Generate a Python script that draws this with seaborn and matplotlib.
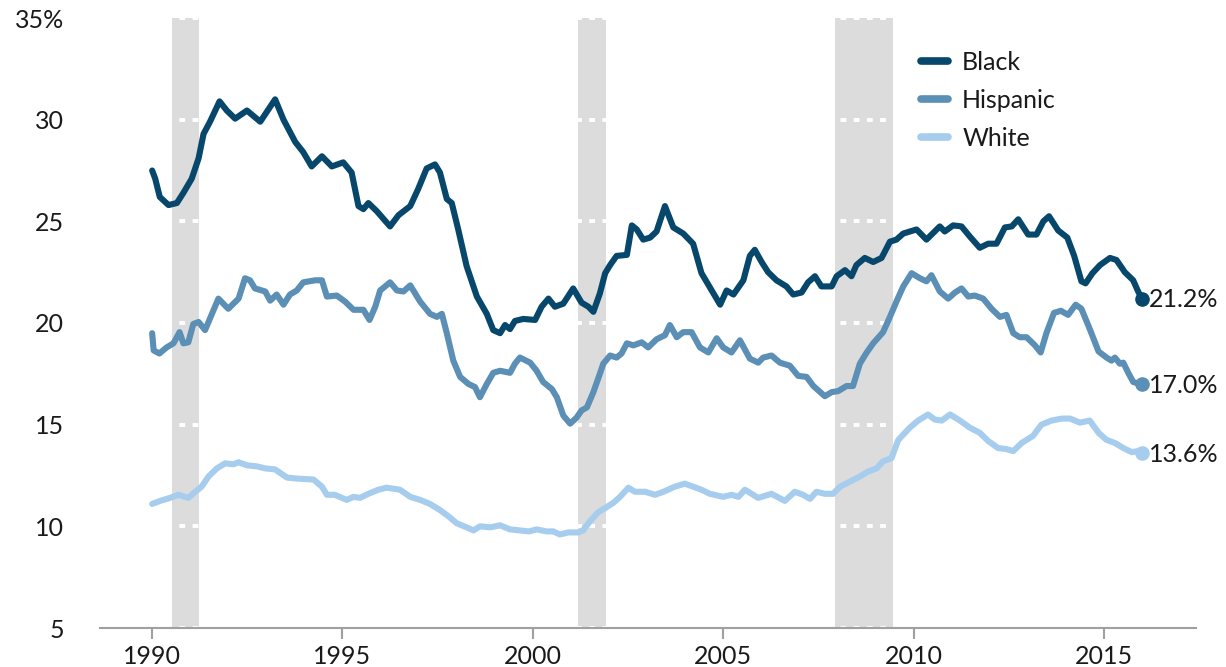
import numpy as np
import pandas as pd
import matplotlib
matplotlib.use("Agg")
import matplotlib.pyplot as plt
import seaborn as sns
from matplotlib.lines import Line2D

# ---------------- data ----------------
black_t = [1990.0, 1990.08, 1990.2, 1990.43, 1990.65, 1990.82, 1991.04, 1991.22, 1991.35, 1991.52,
           1991.77, 1991.96, 1992.18, 1992.49, 1992.84, 1993.23, 1993.45, 1993.76, 1993.97, 1994.19,
           1994.46, 1994.72, 1995.02, 1995.24, 1995.42, 1995.55, 1995.68, 1995.9, 1996.25, 1996.47,
           1996.78, 1996.99, 1997.21, 1997.43, 1997.56, 1997.74, 1997.87, 1998.04, 1998.26, 1998.53,
           1998.79, 1998.96, 1999.14, 1999.27, 1999.4, 1999.53, 1999.75, 2000.06, 2000.23, 2000.41,
           2000.58, 2000.8, 2001.06, 2001.28, 2001.46, 2001.59, 2001.76, 2001.9, 2002.03, 2002.2,
           2002.47, 2002.6, 2002.73, 2002.9, 2003.08, 2003.25, 2003.47, 2003.69, 2003.95, 2004.21,
           2004.43, 2004.7, 2004.92, 2005.09, 2005.27, 2005.53, 2005.7, 2005.83, 2006.01, 2006.18,
           2006.4, 2006.66, 2006.84, 2007.06, 2007.23, 2007.41, 2007.58, 2007.85, 2007.98, 2008.2,
           2008.37, 2008.5, 2008.72, 2008.94, 2009.16, 2009.38, 2009.55, 2009.73, 2010.08, 2010.34,
           2010.69, 2010.82, 2011.04, 2011.26, 2011.48, 2011.74, 2011.96, 2012.18, 2012.4, 2012.58,
           2012.75, 2013.01, 2013.23, 2013.41, 2013.56, 2013.8, 2014.04, 2014.22, 2014.41, 2014.52,
           2014.7, 2014.9, 2015.16, 2015.33, 2015.55, 2015.77, 2015.9, 2016.0]
black_v = [27.5, 27.1, 26.2, 25.8, 25.9, 26.4, 27.1, 28.1, 29.3, 29.9,
           30.9, 30.45, 30.05, 30.45, 29.9, 31.0, 30.0, 28.9, 28.4, 27.7,
           28.2, 27.7, 27.9, 27.4, 25.75, 25.6, 25.9, 25.5, 24.75, 25.3,
           25.75, 26.6, 27.6, 27.8, 27.4, 26.1, 25.9, 24.6, 22.8, 21.3,
           20.45, 19.65, 19.5, 19.9, 19.7, 20.1, 20.2, 20.15, 20.8, 21.2,
           20.8, 20.95, 21.7, 21.0, 20.8, 20.55, 21.45, 22.45, 22.85, 23.3,
           23.35, 24.8, 24.6, 24.1, 24.2, 24.5, 25.75, 24.7, 24.4, 23.9,
           22.45, 21.6, 20.9, 21.6, 21.4, 22.1, 23.3, 23.6, 23.0, 22.5,
           22.1, 21.8, 21.4, 21.5, 22.0, 22.3, 21.8, 21.8, 22.3, 22.6,
           22.3, 22.85, 23.2, 23.0, 23.2, 24.0, 24.1, 24.4, 24.6, 24.1,
           24.75, 24.5, 24.8, 24.75, 24.25, 23.7, 23.9, 23.9, 24.7, 24.75,
           25.1, 24.35, 24.35, 25.0, 25.25, 24.55, 24.2, 23.3, 22.05, 21.95,
           22.45, 22.85, 23.2, 23.1, 22.5, 22.1, 21.55, 21.2]

hisp_t = [1990.0, 1990.04, 1990.19, 1990.38, 1990.56, 1990.72, 1990.82, 1990.95, 1991.08, 1991.22,
          1991.39, 1991.57, 1991.74, 1992.0, 1992.27, 1992.44, 1992.57, 1992.7, 1992.97, 1993.1,
          1993.27, 1993.45, 1993.62, 1993.8, 1993.97, 1994.28, 1994.46, 1994.59, 1994.85, 1995.07,
          1995.29, 1995.55, 1995.71, 1995.86, 1995.99, 1996.25, 1996.43, 1996.6, 1996.78, 1997.04,
          1997.3, 1997.48, 1997.61, 1997.74, 1997.91, 1998.09, 1998.31, 1998.48, 1998.61, 1998.79,
          1998.96, 1999.14, 1999.4, 1999.53, 1999.66, 1999.93, 2000.1, 2000.27, 2000.5, 2000.63,
          2000.8, 2000.98, 2001.15, 2001.28, 2001.42, 2001.59, 2001.76, 2001.85, 2002.03, 2002.2,
          2002.33, 2002.47, 2002.64, 2002.86, 2003.03, 2003.25, 2003.47, 2003.6, 2003.78, 2003.95,
          2004.17, 2004.39, 2004.61, 2004.83, 2005.0, 2005.22, 2005.44, 2005.7, 2005.92, 2006.05,
          2006.27, 2006.49, 2006.75, 2006.97, 2007.19, 2007.37, 2007.67, 2007.85, 2008.02, 2008.24,
          2008.41, 2008.59, 2008.77, 2008.94, 2009.2, 2009.38, 2009.55, 2009.73, 2009.95, 2010.17,
          2010.34, 2010.47, 2010.69, 2010.91, 2011.09, 2011.26, 2011.44, 2011.61, 2011.83, 2012.05,
          2012.27, 2012.44, 2012.62, 2012.79, 2012.97, 2013.19, 2013.34, 2013.49, 2013.69, 2013.87,
          2014.06, 2014.26, 2014.41, 2014.63, 2014.86, 2015.07, 2015.2, 2015.29, 2015.42, 2015.51,
          2015.64, 2015.77, 2015.95, 2016.0]
hisp_v = [19.5, 18.65, 18.5, 18.8, 19.0, 19.55, 19.0, 19.05, 19.95, 20.05,
          19.65, 20.45, 21.2, 20.7, 21.2, 22.2, 22.1, 21.7, 21.55, 21.1,
          21.4, 20.9, 21.4, 21.6, 22.0, 22.1, 22.1, 21.3, 21.35, 21.05,
          20.65, 20.65, 20.15, 20.8, 21.6, 22.0, 21.6, 21.55, 21.85, 21.05,
          20.45, 20.3, 20.45, 19.5, 18.15, 17.35, 17.0, 16.85, 16.35, 17.0,
          17.55, 17.65, 17.55, 18.0, 18.3, 18.05, 17.65, 17.1, 16.75, 16.35,
          15.45, 15.05, 15.35, 15.7, 15.85, 16.6, 17.5, 18.0, 18.4, 18.3,
          18.5, 19.0, 18.9, 19.05, 18.8, 19.2, 19.4, 19.9, 19.3, 19.55,
          19.55, 18.8, 18.55, 19.25, 18.8, 18.55, 19.15, 18.25, 18.05, 18.3,
          18.4, 18.05, 17.9, 17.4, 17.35, 16.9, 16.4, 16.6, 16.65, 16.9,
          16.9, 18.0, 18.55, 19.0, 19.55, 20.3, 21.05, 21.8, 22.45, 22.2,
          22.05, 22.35, 21.55, 21.2, 21.5, 21.7, 21.3, 21.35, 21.2, 20.7,
          20.3, 20.4, 19.5, 19.3, 19.3, 18.9, 18.55, 19.5, 20.5, 20.6,
          20.4, 20.9, 20.7, 19.7, 18.6, 18.3, 18.15, 18.3, 18.0, 18.05,
          17.55, 17.1, 17.0, 17.0]

white_t = [1990.0, 1990.21, 1990.47, 1990.69, 1990.95, 1991.13, 1991.3, 1991.48, 1991.7, 1991.92,
           1992.13, 1992.27, 1992.49, 1992.75, 1992.97, 1993.23, 1993.54, 1993.8, 1994.24, 1994.46,
           1994.59, 1994.8, 1995.11, 1995.29, 1995.46, 1995.68, 1995.94, 1996.16, 1996.51, 1996.78,
           1997.04, 1997.3, 1997.56, 1997.78, 1998.0, 1998.26, 1998.44, 1998.61, 1998.88, 1999.14,
           1999.4, 1999.66, 1999.9, 2000.1, 2000.36, 2000.54, 2000.71, 2000.93, 2001.19, 2001.32,
           2001.5, 2001.72, 2001.9, 2002.11, 2002.29, 2002.51, 2002.68, 2002.95, 2003.21, 2003.43,
           2003.73, 2003.99, 2004.21, 2004.43, 2004.65, 2005.0, 2005.22, 2005.4, 2005.57, 2005.92,
           2006.27, 2006.62, 2006.88, 2007.1, 2007.28, 2007.45, 2007.67, 2007.89, 2008.07, 2008.33,
           2008.59, 2008.81, 2009.03, 2009.2, 2009.42, 2009.6, 2009.9, 2010.12, 2010.38, 2010.56,
           2010.74, 2010.96, 2011.22, 2011.48, 2011.74, 2011.96, 2012.22, 2012.44, 2012.62, 2012.84,
           2013.14, 2013.36, 2013.62, 2013.9, 2014.11, 2014.37, 2014.63, 2014.86, 2015.07, 2015.29,
           2015.51, 2015.73, 2015.9, 2016.0]
white_v = [11.1, 11.25, 11.4, 11.55, 11.4, 11.7, 11.95, 12.45, 12.85, 13.1,
           13.05, 13.15, 13.0, 12.95, 12.85, 12.8, 12.4, 12.35, 12.3, 11.95,
           11.55, 11.55, 11.3, 11.45, 11.4, 11.6, 11.8, 11.9, 11.8, 11.45,
           11.3, 11.1, 10.8, 10.5, 10.15, 9.95, 9.8, 10.0, 9.95, 10.05,
           9.85, 9.8, 9.75, 9.85, 9.75, 9.75, 9.6, 9.7, 9.7, 9.8,
           10.25, 10.7, 10.9, 11.15, 11.45, 11.9, 11.7, 11.7, 11.55, 11.7,
           11.95, 12.1, 11.95, 11.8, 11.6, 11.45, 11.55, 11.45, 11.8, 11.4,
           11.6, 11.25, 11.7, 11.55, 11.35, 11.7, 11.6, 11.6, 11.95, 12.2,
           12.45, 12.7, 12.85, 13.2, 13.35, 14.25, 14.85, 15.2, 15.5, 15.25,
           15.2, 15.5, 15.2, 14.85, 14.6, 14.2, 13.85, 13.8, 13.7, 14.1,
           14.45, 15.0, 15.2, 15.3, 15.3, 15.1, 15.2, 14.6, 14.25, 14.1,
           13.85, 13.65, 13.7, 13.6]

series_names = ["Black", "Hispanic", "White"]
end_labels = ["21.2%", "17.0%", "13.6%"]
recession_start = [1990.52, 2001.19, 2007.94]
recession_end = [1991.23, 2001.92, 2009.46]
x_ticks = [1990, 1995, 2000, 2005, 2010, 2015]
y_ticks = [5, 10, 15, 20, 25, 30, 35]
y_ticklabels = ["5", "10", "15", "20", "25", "30", "35%"]

colors = {"Black": "#06476b", "Hispanic": "#5b8fb5", "White": "#a7cdee"}

# ---------------- build long frame ----------------
frames = []
for name, t, v in zip(series_names, [black_t, hisp_t, white_t], [black_v, hisp_v, white_v]):
    frames.append(pd.DataFrame({"year": t, "rate": v, "group": name}))
df = pd.concat(frames, ignore_index=True)

# ---------------- plot ----------------
sns.set_theme(style="white")
plt.rcParams["font.family"] = ["Lato", "DejaVu Sans"]
FS = 18

fig = plt.figure(figsize=(12.26, 6.67), dpi=100)
ax = fig.add_axes([100 / 1226, 39 / 667, 1096 / 1226, 610 / 667])

for s, e in zip(recession_start, recession_end):
    ax.axvspan(s, e, color="#dcdcdc", lw=0, zorder=0)

for yv in y_ticks:
    ax.axhline(yv, color="white", lw=2.8, ls=(0, (1.5, 1.9)), zorder=1)

sns.lineplot(data=df, x="year", y="rate", hue="group", hue_order=series_names,
             palette=colors, linewidth=4.4, ax=ax, legend=False, zorder=3,
             estimator=None, sort=False)

for name, t, v, lab in zip(series_names, [black_t, hisp_t, white_t],
                           [black_v, hisp_v, white_v], end_labels):
    ax.plot(t[-1], v[-1], "o", color=colors[name], markersize=9.5, zorder=4)
    ax.annotate(lab, (t[-1], v[-1]), xytext=(5, -1), textcoords="offset points",
                va="center", ha="left", fontsize=FS, color="#1a1a1a")

# legend
handles = [Line2D([0], [0], color=colors[n], lw=5.5) for n in series_names]
leg = ax.legend(handles, series_names, loc="upper left", bbox_to_anchor=(0.749, 0.946),
                frameon=False, fontsize=FS, handlelength=1.1, handletextpad=0.55,
                labelspacing=0.6, borderpad=0, borderaxespad=0)
for txt in leg.get_texts():
    txt.set_color("#1a1a1a")

ax.set_xlim(1988.63, 2017.42)
ax.set_ylim(5, 35)
ax.set_xticks(x_ticks)
ax.set_xticklabels([str(x) for x in x_ticks])
ax.set_yticks(y_ticks)
ax.set_yticklabels(y_ticklabels)
ax.set_xlabel("")
ax.set_ylabel("")

for sp in ["top", "right", "left"]:
    ax.spines[sp].set_visible(False)
ax.spines["bottom"].set_color("#a0a0a0")
ax.spines["bottom"].set_linewidth(1.5)
ax.tick_params(axis="x", which="major", bottom=True, length=8, width=1.5,
               color="#a0a0a0", labelsize=FS, labelcolor="#1a1a1a", pad=4)
ax.tick_params(axis="y", which="major", left=False, labelsize=FS,
               labelcolor="#1a1a1a", pad=20)
ax.grid(False)

fig.savefig("out.png", dpi=100)
